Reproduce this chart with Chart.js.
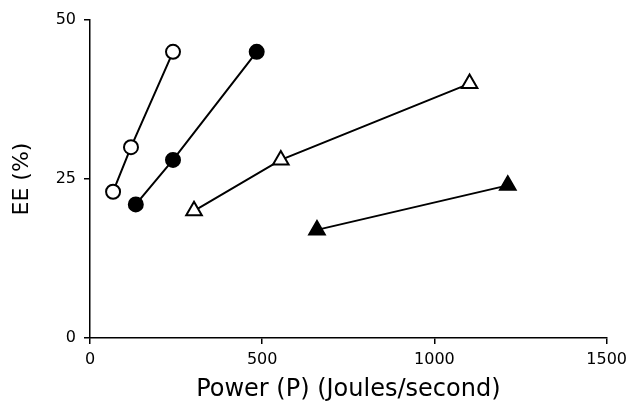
<!DOCTYPE html>
<html><head><meta charset="utf-8">
<script src="https://cdn.jsdelivr.net/npm/chart.js@4"></script>
<style>html,body{margin:0;padding:0;background:#fff}#wrap{width:633px;height:407px}</style>
</head><body><div id="wrap"><canvas id="c" width="633" height="407"></canvas></div>
<script>
const openCircleX = [67, 119, 241];
const openCircleY = [23, 30, 45];
const filledCircleX = [133, 241, 484];
const filledCircleY = [21, 28, 45];
const openTriangleX = [302, 554, 1102];
const openTriangleY = [20, 28, 40];
const filledTriangleX = [659, 1213];
const filledTriangleY = [17, 24];
const xTicks = [0, 500, 1000, 1500];
const yTicks = [0, 25, 50];

const pts = (xs, ys) => xs.map((x, i) => ({x, y: ys[i]}));
const mk = (xs, ys, style, fill, r) => ({
  data: pts(xs, ys), showLine: true, borderColor: '#000', borderWidth: 2,
  pointStyle: style, pointRadius: r, pointHoverRadius: r,
  pointBackgroundColor: fill, pointBorderColor: '#000', pointBorderWidth: 2
});
const font = "'DejaVu Sans', sans-serif";
new Chart(document.getElementById('c'), {
  type: 'scatter',
  data: { datasets: [
    mk(openCircleX, openCircleY, 'circle', '#fff', 7),
    mk(filledCircleX, filledCircleY, 'circle', '#000', 7),
    mk(openTriangleX, openTriangleY, 'triangle', '#fff', 9),
    mk(filledTriangleX, filledTriangleY, 'triangle', '#000', 9)
  ]},
  options: {
    responsive: false, animation: false,
    layout: { padding: { left: 0, right: 26, top: 20, bottom: 0 } },
    plugins: { legend: { display: false }, tooltip: { enabled: false } },
    scales: {
      x: {
        min: 0, max: 1500,
        afterBuildTicks: s => { s.ticks = xTicks.map(v => ({value: v})); },
        afterFit: s => { s.height = 69; },
        grid: { drawOnChartArea: false, drawTicks: true, tickLength: 6, color: '#000', lineWidth: 1.5 },
        border: { color: '#000', width: 1.5 },
        ticks: { color: '#000', font: { family: font, size: 16 }, padding: 6, maxRotation: 0, callback: v => String(v) },
        title: { display: true, text: 'Power (P) (Joules/second)', color: '#000', font: { family: font, size: 24 }, padding: { top: 0, bottom: 3 } }
      },
      y: {
        min: 0, max: 50,
        afterBuildTicks: s => { s.ticks = yTicks.map(v => ({value: v})); },
        afterFit: s => { s.width = 90; },
        grid: { drawOnChartArea: false, drawTicks: true, tickLength: 6, color: '#000', lineWidth: 1.5 },
        border: { color: '#000', width: 1.5 },
        ticks: { color: '#000', font: { family: font, size: 16 }, padding: 8, callback: v => String(v) },
        title: { display: true, text: 'EE (%)', color: '#000', font: { family: font, size: 22 }, padding: { top: 9, bottom: 0 } }
      }
    }
  }
});
</script></body></html>
